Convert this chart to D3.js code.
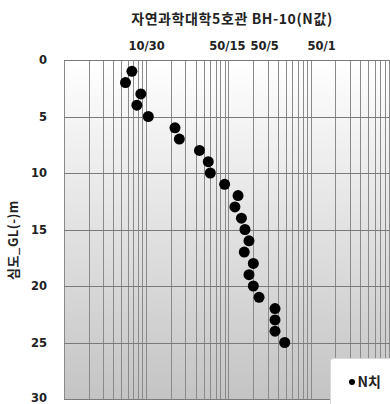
<!DOCTYPE html>
<html><head><meta charset="utf-8">
<script src="https://cdn.jsdelivr.net/npm/d3@7"></script>
<style>body{margin:0;background:#fff}svg{display:block}</style>
</head><body><svg id="c" width="390" height="404"></svg>
<script>
const depths = [1,2,3,4,5,6,7,8,9,10,11,12,13,14,15,16,17,18,19,20,21,22,23,24,25];
const nValues = [6.7,5.6,8.6,7.7,10.6,22.4,25.3,44.5,56.9,60.2,90,131,120,144,159,178,156,201,178,201,236,369,369,369,484];
const topTickValues = [10,100,300,1500];
const topTickLabels = ["10/30","50/15","50/5","50/1"];
const yTicks = [0,5,10,15,20,25,30];
const title = "자연과학대학5호관  BH-10(N값)";
const yTitle = "심도_GL(-)m";
const legendLabel = "N치";

const svg = d3.select("#c");
const L = 64, T = 60, B = 399, R = 392.8;
const x = d3.scaleLog().domain([1,10000]).range([L,R]);
const y = d3.scaleLinear().domain([0,30]).range([T,B]);
const font = "'Noto Sans CJK KR','Noto Sans',sans-serif";
const numFont = "'DejaVu Sans',sans-serif";

const defs = svg.append("defs");
const g = defs.append("linearGradient").attr("id","bg").attr("x1",0).attr("y1",0).attr("x2",0).attr("y2",1);
g.append("stop").attr("offset","0%").attr("stop-color","#ffffff");
g.append("stop").attr("offset","100%").attr("stop-color","#c4c4c4");

svg.append("rect").attr("x",L).attr("y",T).attr("width",R-L).attr("height",B-T).attr("fill","url(#bg)");

// vertical log grid
const vticks = [];
for (let d=1; d<10000; d*=10) for (let k=1;k<10;k++) vticks.push(d*k);
vticks.push(10000);
svg.append("g").selectAll("line").data(vticks).join("line")
  .attr("x1",d=>Math.round(x(d))+0.5).attr("x2",d=>Math.round(x(d))+0.5)
  .attr("y1",T).attr("y2",B).attr("stroke","#8a8a8a").attr("stroke-width",1);

// horizontal grid
svg.append("g").selectAll("line").data(yTicks).join("line")
  .attr("x1",L).attr("x2",R).attr("y1",d=>Math.round(y(d))+0.5).attr("y2",d=>Math.round(y(d))+0.5)
  .attr("stroke","#7a7a7a").attr("stroke-width",1);

// y axis
const yAxis = d3.axisLeft(y).tickValues(yTicks).tickSize(0).tickPadding(0);
const ya = svg.append("g").attr("transform",`translate(${L-17},0)`).call(yAxis);
ya.select(".domain").remove();
ya.selectAll("text").attr("font-family",numFont).attr("font-weight","bold").attr("font-size",11.5).attr("fill","#222")
  .attr("dy",d=>d===30?"0.2em":"0.32em");

// top axis labels
const xa = svg.append("g").attr("transform",`translate(0,50)`)
  .call(d3.axisTop(x).tickValues(topTickValues).tickFormat((d,i)=>topTickLabels[i]).tickSize(0).tickPadding(0));
xa.select(".domain").remove();
xa.selectAll("text").attr("font-family",numFont).attr("font-weight","bold").attr("font-size",11.5).attr("fill","#222")
  .attr("dx",(d,i)=>[0,-1.5,-3.5,-4][i]);

// title
svg.append("text").attr("x",232).attr("y",24).attr("text-anchor","middle")
  .attr("font-family",font).attr("font-weight","bold").attr("font-size",14).attr("letter-spacing",0.6).attr("fill","#222").text(title);

// y title
svg.append("text").attr("transform","translate(18,240) rotate(-90)").attr("text-anchor","middle")
  .attr("font-family",font).attr("font-weight","bold").attr("font-size",13).attr("letter-spacing",0.5).attr("fill","#222").text(yTitle);

// points
svg.append("g").selectAll("circle").data(depths).join("circle")
  .attr("cx",(d,i)=>x(nValues[i])).attr("cy",d=>y(d)).attr("r",5.5).attr("fill","#000");

// legend
svg.append("rect").attr("x",330.5).attr("y",358.5).attr("width",70).attr("height",60).attr("rx",3)
  .attr("fill","#fff").attr("stroke","#d8d8d8");
svg.append("circle").attr("cx",352).attr("cy",382).attr("r",3).attr("fill","#000");
svg.append("text").attr("x",357.5).attr("y",387).attr("font-family",font).attr("font-weight","bold")
  .attr("font-size",14).attr("fill","#222").text(legendLabel);
</script></body></html>
